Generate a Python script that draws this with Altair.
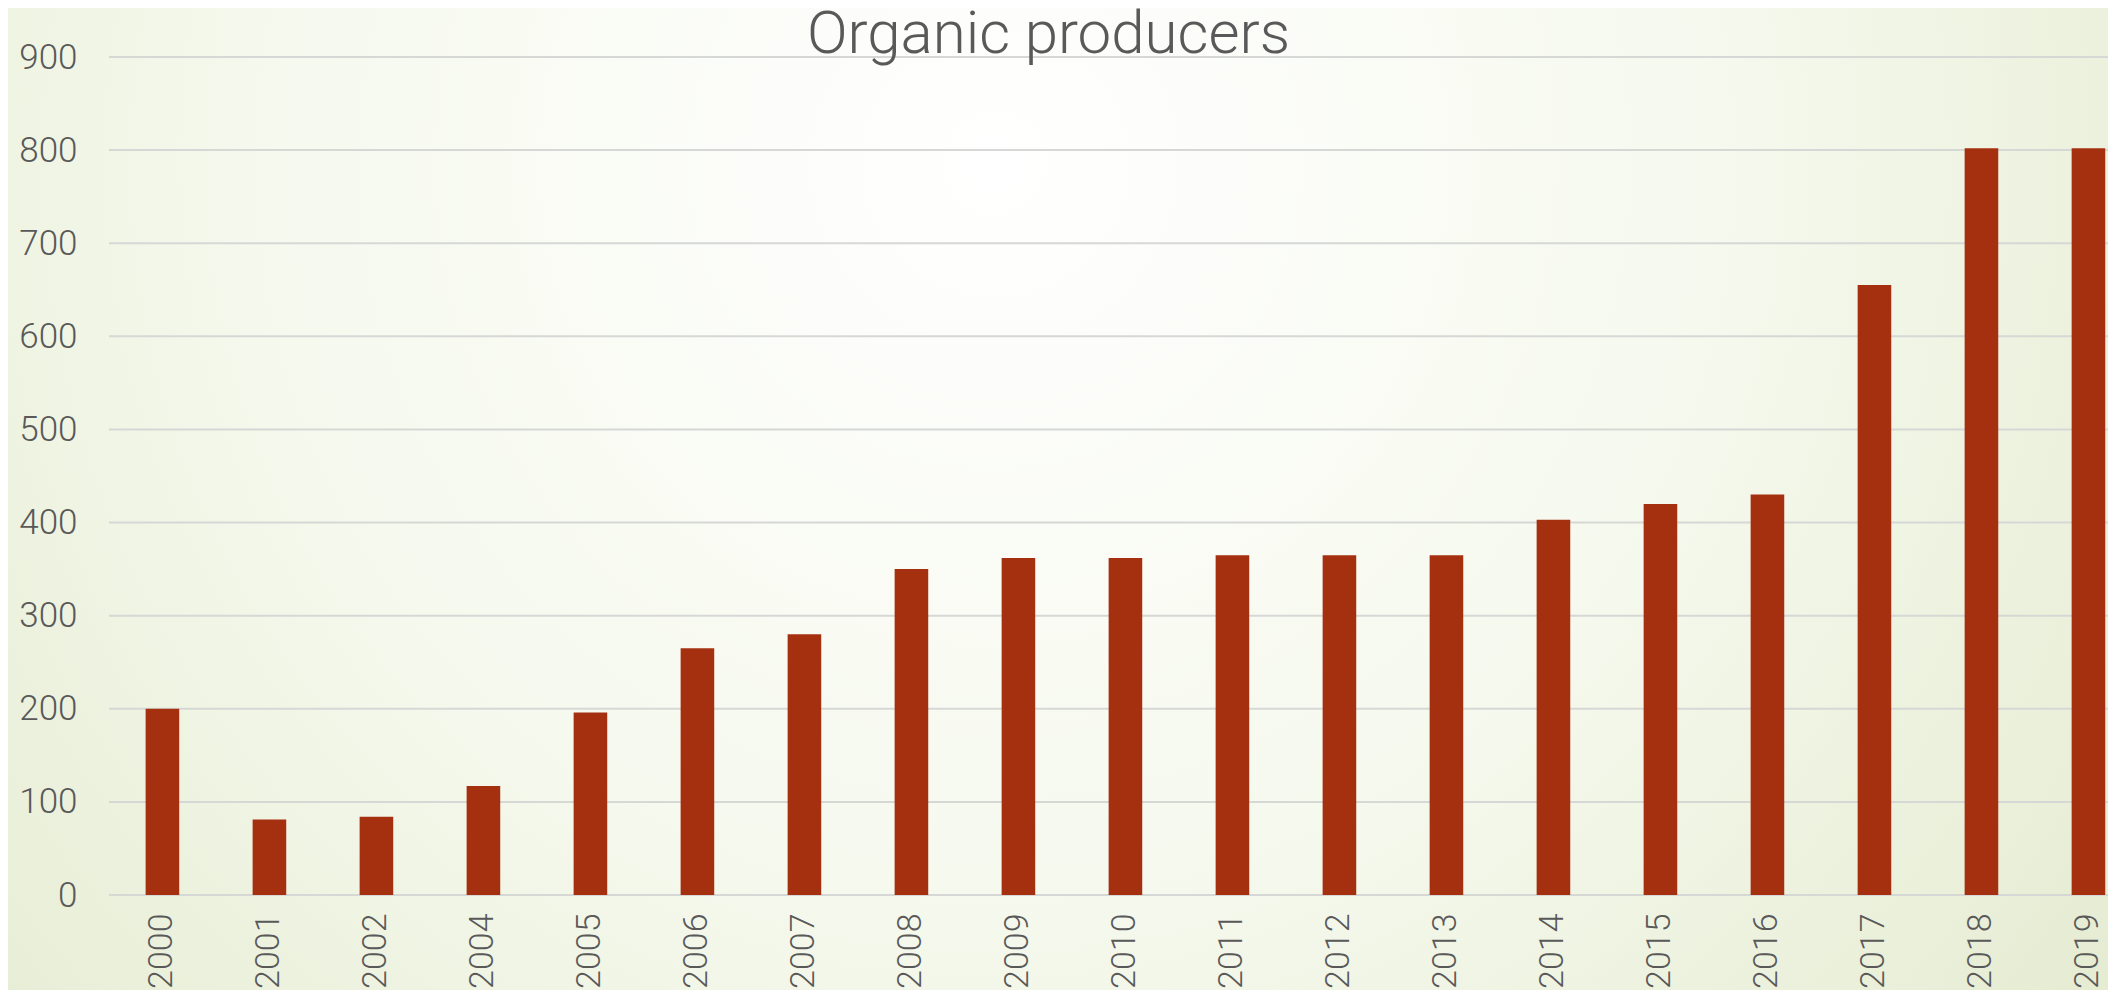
import altair as alt
import pandas as pd

years = ["2000", "2001", "2002", "2004", "2005", "2006", "2007", "2008", "2009",
         "2010", "2011", "2012", "2013", "2014", "2015", "2016", "2017", "2018", "2019"]
producers = [200, 81, 84, 117, 196, 265, 280, 350, 362,
             362, 365, 365, 365, 403, 420, 430, 655, 802, 802]
y_ticks = [0, 100, 200, 300, 400, 500, 600, 700, 800, 900]

df = pd.DataFrame({"year": years, "producers": producers})
grid_df = pd.DataFrame({"tick": y_ticks})

FONT = "Roboto"
TEXT = "#595959"
W, H = 1999, 838
PAD_L, PAD_T, PAD_R, PAD_B = 101, 49, 0, 95

x_enc = alt.X("year:N", sort=years,
              scale=alt.Scale(paddingInner=0.686, paddingOuter=0.184, align=0.93),
              axis=alt.Axis(title=None, labelAngle=-90, labelFontSize=34, labelFont=FONT,
                            labelFontWeight=300, labelColor=TEXT, labelPadding=18,
                            ticks=False, domain=False, grid=False, zindex=2))
y_scale = alt.Scale(domain=[0, 900], nice=False)

bg = alt.Chart(alt.Data(values=[{"k": 1}])).mark_rect(
    fill={
        "gradient": "radial",
        "x1": 0.47, "y1": 0.34, "r1": 0.0,
        "x2": 0.47, "y2": 0.34, "r2": 0.76,
        "stops": [
            {"offset": 0.0, "color": "#ffffff"},
            {"offset": 0.45, "color": "#f6f9ee"},
            {"offset": 1.0, "color": "#e0e8c9"},
        ],
    },
    strokeWidth=0,
).encode(
    x=alt.value(-PAD_L), x2=alt.value(W + PAD_R),
    y=alt.value(-PAD_T), y2=alt.value(H + PAD_B),
)

grid = alt.Chart(grid_df).mark_rule(color="#d6d8d6", strokeWidth=2).encode(
    y=alt.Y("tick:Q", scale=y_scale,
            axis=alt.Axis(title=None, values=y_ticks, labelFontSize=35, labelFont=FONT,
                          labelFontWeight=300, labelColor=TEXT, labelPadding=32,
                          ticks=False, domain=False, grid=False, zindex=2)),
)

bars = alt.Chart(df).mark_bar(color="#A53010").encode(
    x=x_enc,
    y=alt.Y("producers:Q", scale=y_scale),
)

chart = alt.layer(bg, grid, bars).properties(
    width=W, height=H,
    title=alt.TitleParams("Organic producers", font=FONT, fontSize=60, fontWeight=300,
                          color=TEXT, anchor="middle", frame="group", dx=-60,
                          baseline="alphabetic", offset=0, dy=105, zindex=2),
    autosize=alt.AutoSizeParams(type="none"),
    padding={"left": PAD_L, "top": PAD_T, "right": PAD_R, "bottom": PAD_B},
).configure_view(stroke=None).configure(background="#eef3e2")

chart.save("out.html", embed_options={"renderer": "svg", "actions": False})
